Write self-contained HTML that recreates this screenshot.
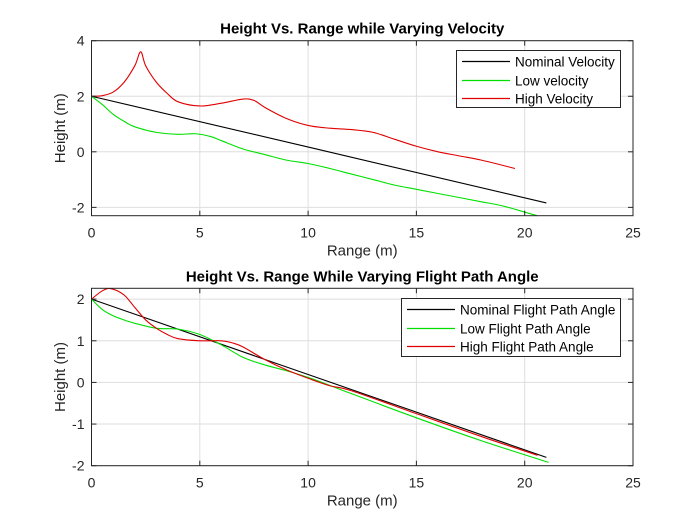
<!DOCTYPE html>
<html><head><meta charset="utf-8"><style>
html,body{margin:0;padding:0;background:#fff}
svg{display:block;font-family:"Liberation Sans",Arial,sans-serif}
</style></head><body>
<svg id="fig" width="700" height="525" viewBox="0 0 700 525" xmlns="http://www.w3.org/2000/svg">
<rect width="700" height="525" fill="#fff"/>
</svg>
<script>
// ---- data: top chart (varying velocity) ----
const xTicks = [0,5,10,15,20,25];
const topYTicks = [-2,0,2,4];
const botYTicks = [-2,-1,0,1,2];
const topNominalX = [0,21];
const topNominalY = [2,-1.84];
const topLowX = [0,0.5,1,1.5,2,3,4,4.8,5.5,6,7,8,9,10,11,12,13,14,15,16,17,18,19,20.57];
const topLowY = [2,1.7,1.35,1.1,0.9,0.7,0.63,0.65,0.55,0.4,0.1,-0.1,-0.3,-0.42,-0.6,-0.8,-1.0,-1.2,-1.35,-1.5,-1.65,-1.8,-1.95,-2.3];
const topHighX = [0,0.5,1,1.5,2,2.27,2.5,3,3.5,4,5,6,7,7.5,8,9,10,11,12,13,14,15,16,17,18,19.55];
const topHighY = [2,2.02,2.15,2.5,3.1,3.6,3.1,2.5,2.1,1.8,1.65,1.75,1.9,1.85,1.6,1.2,0.95,0.85,0.8,0.7,0.45,0.2,0.0,-0.15,-0.3,-0.6];
// ---- data: bottom chart (varying flight path angle) ----
const botNominalX = [0,21];
const botNominalY = [2,-1.8];
const botLowX = [0,0.5,1,1.5,2,3,4,5,6,7,8,9,10,11,12,15,18,21.1];
const botLowY = [2,1.75,1.6,1.5,1.42,1.3,1.28,1.15,0.9,0.6,0.42,0.28,0.12,-0.07,-0.27,-0.85,-1.4,-1.92];
const botHighX = [0,0.5,0.9,1.5,2,2.5,3,3.5,4,5,6,6.5,7,8,9,10,11,12,15,18,20.6];
const botHighY = [2,2.2,2.25,2.1,1.8,1.5,1.3,1.15,1.05,1.0,1.0,0.95,0.85,0.55,0.3,0.1,-0.08,-0.2,-0.75,-1.3,-1.75];

const NS="http://www.w3.org/2000/svg";
const svg=document.getElementById('fig');
function mk(tag,attrs,parent){const e=document.createElementNS(NS,tag);for(const k in attrs)e.setAttribute(k,attrs[k]);(parent||svg).appendChild(e);return e;}

function path(xs,ys,sx,sy){
  const p=xs.map((x,i)=>[sx(x),sy(ys[i])]);
  let d=`M${p[0][0]},${p[0][1]}`;
  for(let i=0;i<p.length-1;i++){
    const p0=p[Math.max(0,i-1)],p1=p[i],p2=p[i+1],p3=p[Math.min(p.length-1,i+2)];
    const c1=[p1[0]+(p2[0]-p0[0])/6,p1[1]+(p2[1]-p0[1])/6];
    const c2=[p2[0]-(p3[0]-p1[0])/6,p2[1]-(p3[1]-p1[1])/6];
    d+=` C${c1[0]},${c1[1]} ${c2[0]},${c2[1]} ${p2[0]},${p2[1]}`;
  }
  return d;
}

function chart(o){
  const g=mk('g',{});
  
  
  const L=91.5,R=633,T=o.top,B=o.bottom;
  const sx=x=>L+(x-0)/(25-0)*(R-L);
  const sy=y=>B-(y-o.ymin)/(o.ymax-o.ymin)*(B-T);
  xTicks.forEach(t=>{ if(t>0&&t<25){const l=mk('line',{x1:sx(t),x2:sx(t),y1:T,y2:B,stroke:'#dedede','stroke-width':1},g);}});
  o.yTicks.forEach(t=>{const l=mk('line',{x1:L,x2:R,y1:sy(t),y2:sy(t),stroke:'#dedede','stroke-width':1},g);});
  o.series.forEach(s=>{
    const p=mk('path',{d:path(s.x,s.y,sx,sy),fill:'none',stroke:s.c,'stroke-width':1.1},g);
    
    
  });
  const bx=mk('rect',{x:L,y:T,width:R-L,height:B-T,fill:'none',stroke:'#262626','stroke-width':1},g);
  
  
  xTicks.forEach(t=>{
    mk('line',{x1:sx(t),x2:sx(t),y1:B,y2:B-5,stroke:'#262626'},g);
    mk('line',{x1:sx(t),x2:sx(t),y1:T,y2:T+5,stroke:'#262626'},g);
    const tx=mk('text',{x:sx(t),y:B+22,'text-anchor':'middle','font-size':14,fill:'#262626'},g);
    tx.textContent=String(t);
    
    
  });
  o.yTicks.forEach(t=>{
    mk('line',{x1:L,x2:L+5,y1:sy(t),y2:sy(t),stroke:'#262626'},g);
    mk('line',{x1:R,x2:R-5,y1:sy(t),y2:sy(t),stroke:'#262626'},g);
    const tx=mk('text',{x:L-7,y:sy(t)+5,'text-anchor':'end','font-size':14,fill:'#262626'},g);
    tx.textContent=String(t);
    
    
  });
  const ti=mk('text',{x:(L+R)/2,y:T-7,'text-anchor':'middle','font-size':15,'font-weight':'bold',fill:'#000'},g);
  ti.textContent=o.title;
  
  
  const xl=mk('text',{x:(L+R)/2,y:B+40,'text-anchor':'middle','font-size':15,fill:'#262626'},g);
  xl.textContent='Range (m)';
  
  
  const yc=(T+B)/2;
  const yl=mk('text',{x:65,y:yc,'text-anchor':'middle','font-size':15,fill:'#262626',transform:`rotate(-90 65 ${yc})`},g);
  yl.textContent='Height (m)';
  
  
  const lg=mk('g',{},g);
  
  
  mk('rect',{x:o.lx+0.5,y:o.ly+0.5,width:620-o.lx,height:o.lh,fill:'#fff',stroke:'#262626','stroke-width':1},lg);
  o.series.forEach((s,i)=>{
    const yy=Math.round(o.ly+11+i*18.5)+0.5;
    mk('line',{x1:o.lx+6,x2:o.lx+54,y1:yy,y2:yy,stroke:s.c,'stroke-width':1.2},lg);
    const t=mk('text',{x:o.lx+59,y:yy+5,'font-size':13.5,fill:'#000'},lg);
    t.textContent=s.label;
    
    
  });
}

chart({name:'top-chart',top:40.7,bottom:215.7,ymin:-2.3,ymax:4,yTicks:topYTicks,
  title:'Height Vs. Range while Varying Velocity',lx:456,ly:50,lh:57,
  series:[{n:'nominal-velocity-line',label:'Nominal Velocity',c:'#000000',x:topNominalX,y:topNominalY},
          {n:'low-velocity-line',label:'Low velocity',c:'#00e000',x:topLowX,y:topLowY},
          {n:'high-velocity-line',label:'High Velocity',c:'#e00000',x:topHighX,y:topHighY}]});
chart({name:'bottom-chart',top:288.3,bottom:465.7,ymin:-2,ymax:2.26,yTicks:botYTicks,
  title:'Height Vs. Range While Varying Flight Path Angle',lx:401,ly:298,lh:58,
  series:[{n:'nominal-angle-line',label:'Nominal Flight Path Angle',c:'#000000',x:botNominalX,y:botNominalY},
          {n:'low-angle-line',label:'Low Flight Path Angle',c:'#00e000',x:botLowX,y:botLowY},
          {n:'high-angle-line',label:'High Flight Path Angle',c:'#e00000',x:botHighX,y:botHighY}]});
</script>
</body></html>
